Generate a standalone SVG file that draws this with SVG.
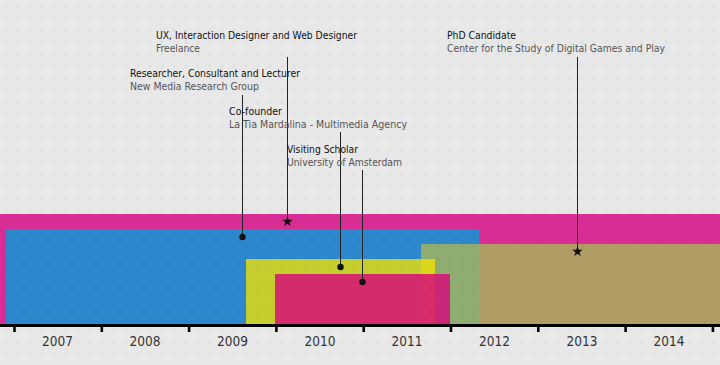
<svg xmlns="http://www.w3.org/2000/svg" width="720" height="365" viewBox="0 0 720 365">
<defs>
<pattern id="dots" width="12" height="12" patternUnits="userSpaceOnUse">
<circle cx="6" cy="6" r="1.6" fill="#000" fill-opacity="0.035"/>
</pattern>
<path id="star" d="M0,-5.5 L1.3,-1.8 L5.2,-1.7 L2.1,0.7 L3.2,4.5 L0,2.2 L-3.2,4.5 L-2.1,0.7 L-5.2,-1.7 L-1.3,-1.8 Z"/>
</defs>
<style>
.t{font-family:"DejaVu Sans Condensed","Liberation Sans",sans-serif;font-size:11px;fill:#111}
.s{font-family:"DejaVu Sans Condensed","Liberation Sans",sans-serif;font-size:10px;fill:#555}
.y{font-family:"DejaVu Sans Condensed","Liberation Sans",sans-serif;font-size:13.5px;fill:#333;text-anchor:middle}
.ln{stroke:#222;stroke-width:1;fill:none}
.tick{stroke:#000;stroke-width:2.6}
</style>
<rect width="720" height="365" fill="#e8e8e8"/>
<g id="bars">
<rect id="phd-bg" x="0" y="214" width="720" height="110" fill="#d92d96"/>
<rect id="research" x="6" y="229" width="473" height="95" fill="#2c87cc"/>
<rect id="phd" x="421" y="244" width="299" height="80" fill="#a6b65a" fill-opacity="0.81"/>
<rect id="cofounder" x="246" y="259" width="189" height="65" fill="#f3e300" fill-opacity="0.77"/>
<rect id="visiting" x="275" y="274" width="175" height="50" fill="#d60e78" fill-opacity="0.85"/>
</g>
<rect width="720" height="365" fill="url(#dots)"/>
<g id="axis">
<rect x="0" y="324" width="720" height="3" fill="#000"/>
<line class="tick" x1="14.5" y1="324" x2="14.5" y2="332"/>
<line class="tick" x1="101.8" y1="324" x2="101.8" y2="332"/>
<line class="tick" x1="189.1" y1="324" x2="189.1" y2="332"/>
<line class="tick" x1="276.4" y1="324" x2="276.4" y2="332"/>
<line class="tick" x1="363.7" y1="324" x2="363.7" y2="332"/>
<line class="tick" x1="451" y1="324" x2="451" y2="332"/>
<line class="tick" x1="538.3" y1="324" x2="538.3" y2="332"/>
<line class="tick" x1="625.6" y1="324" x2="625.6" y2="332"/>
<line class="tick" x1="712.9" y1="324" x2="712.9" y2="332"/>
<text class="y" x="57.5" y="346">2007</text>
<text class="y" x="145" y="346">2008</text>
<text class="y" x="232.5" y="346">2009</text>
<text class="y" x="320" y="346">2010</text>
<text class="y" x="407" y="346">2011</text>
<text class="y" x="494.5" y="346">2012</text>
<text class="y" x="582" y="346">2013</text>
<text class="y" x="669" y="346">2014</text>
</g>
<g id="connectors">
<line class="ln" x1="287.5" y1="57" x2="287.5" y2="221"/>
<line class="ln" x1="242.5" y1="95" x2="242.5" y2="237"/>
<line class="ln" x1="340.5" y1="132" x2="340.5" y2="267"/>
<line class="ln" x1="362.5" y1="170" x2="362.5" y2="282"/>
<line class="ln" x1="577.5" y1="57" x2="577.5" y2="251"/>
<use href="#star" x="287.5" y="221.5" fill="#111"/>
<circle cx="242.5" cy="237" r="3.2" fill="#111"/>
<circle cx="340.5" cy="267" r="3.2" fill="#111"/>
<circle cx="362.5" cy="282" r="3.2" fill="#111"/>
<use href="#star" x="577.5" y="251.5" fill="#111"/>
</g>
<g id="freelance">
<text class="t" x="156" y="39" textLength="201" lengthAdjust="spacingAndGlyphs">UX, Interaction Designer and Web Designer</text>
<text class="s" x="156" y="52" textLength="44" lengthAdjust="spacingAndGlyphs">Freelance</text>
</g>
<g id="researcher">
<text class="t" x="130" y="77" textLength="170" lengthAdjust="spacingAndGlyphs">Researcher, Consultant and Lecturer</text>
<text class="s" x="130" y="90" textLength="129" lengthAdjust="spacingAndGlyphs">New Media Research Group</text>
</g>
<g id="cofounder-label">
<text class="t" x="229" y="115" textLength="53" lengthAdjust="spacingAndGlyphs">Co-founder</text>
<text class="s" x="229" y="128" textLength="178" lengthAdjust="spacingAndGlyphs">La Tia Mardalina - Multimedia Agency</text>
</g>
<g id="visiting-label">
<text class="t" x="287" y="153" textLength="71" lengthAdjust="spacingAndGlyphs">Visiting Scholar</text>
<text class="s" x="287" y="166" textLength="115" lengthAdjust="spacingAndGlyphs">University of Amsterdam</text>
</g>
<g id="phd-label">
<text class="t" x="447" y="39" textLength="69" lengthAdjust="spacingAndGlyphs">PhD Candidate</text>
<text class="s" x="447" y="52" textLength="218" lengthAdjust="spacingAndGlyphs">Center for the Study of Digital Games and Play</text>
</g>
</svg>
